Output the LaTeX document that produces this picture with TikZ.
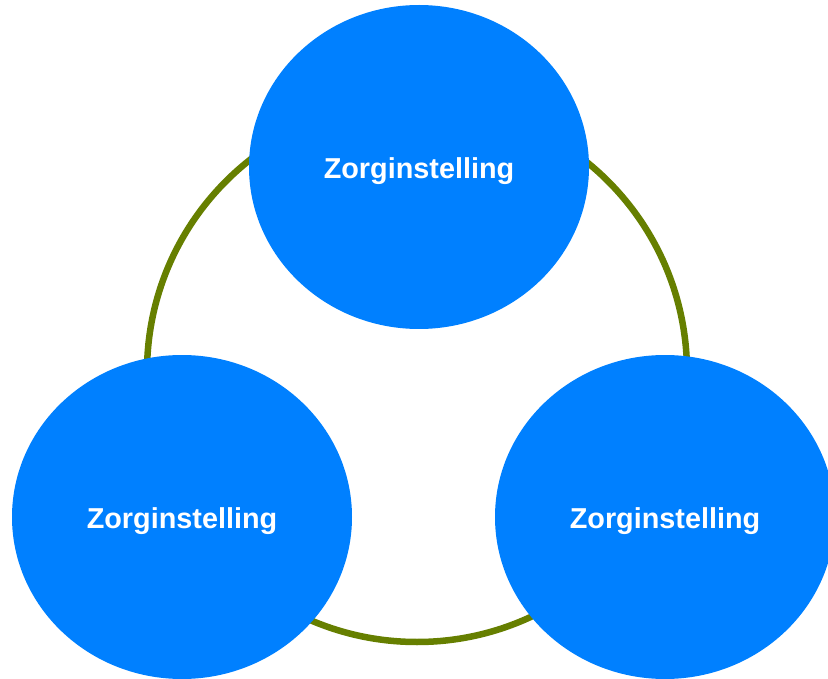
\documentclass[tikz,border=0pt]{standalone}
\usepackage{fontspec}
\setmainfont{Liberation Sans}
\usetikzlibrary{shapes.geometric}
\definecolor{ringgreen}{HTML}{667F00}
\definecolor{nodeblue}{HTML}{0080FF}
\tikzset{
  org/.style={ellipse, fill=nodeblue, draw=none, minimum width=340pt, minimum height=324pt, inner sep=0pt},
  orglabel/.style={text=white, font=\bfseries\fontsize{28.8}{32}\selectfont, yshift=-4pt},
  ring/.style={draw=ringgreen, line width=6.5pt}
}
\begin{document}
\begin{tikzpicture}[x=1pt,y=-1pt]
\useasboundingbox (0,0) rectangle (828,679);
\draw[ring] (417,372) circle[radius=270];
\node[org] (top) at (419,167) {};
\node[org] (left) at (182,517) {};
\node[org] (right) at (665,517) {};
\node[orglabel] (toplabel) at (top.center) {Zorginstelling};
\node[orglabel] (leftlabel) at (left.center) {Zorginstelling};
\node[orglabel] (rightlabel) at (right.center) {Zorginstelling};
\end{tikzpicture}
\end{document}
